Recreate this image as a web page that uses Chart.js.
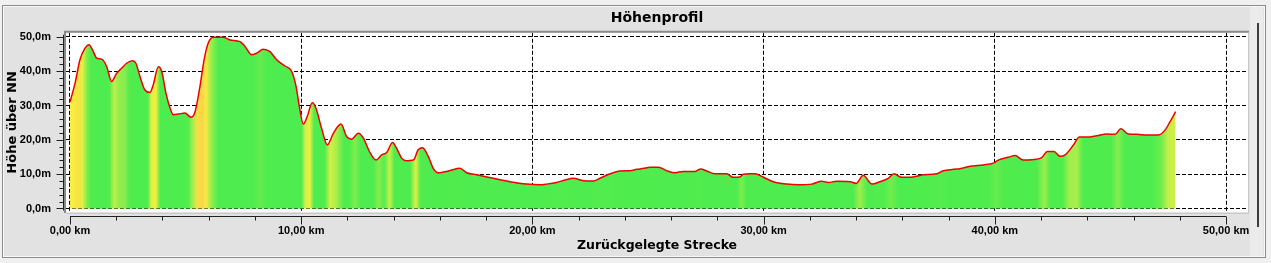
<!DOCTYPE html>
<html>
<head>
<meta charset="utf-8">
<script src="https://cdn.jsdelivr.net/npm/chart.js@4.4.1/dist/chart.umd.min.js"></script>
<style>
  html, body { margin: 0; padding: 0; background: #f0f0f0; overflow: hidden; }
  canvas { display: block; }
</style>
</head>
<body>
<canvas id="profileChart" width="1271" height="263"></canvas>
<script>
// distance along the track (km) and height above sea level (m)
const distanceKm = [
  0.00, 0.22, 0.43, 0.65, 0.82, 1.01, 1.15, 1.37, 1.59, 1.80,
  2.02, 2.24, 2.45, 2.71, 2.85, 3.03, 3.24, 3.46, 3.60, 3.82,
  3.97, 4.15, 4.33, 4.47, 4.69, 4.97, 5.23, 5.41, 5.62, 5.80,
  5.98, 6.20, 6.63, 6.92, 7.35, 7.57, 7.86, 8.07, 8.36, 8.65,
  8.94, 9.30, 9.59, 9.78, 9.92, 10.09, 10.26, 10.48, 10.64, 10.88,
  11.13, 11.39, 11.72, 11.97, 12.18, 12.47, 12.69, 12.95, 13.24, 13.48,
  13.70, 13.95, 14.13, 14.35, 14.56, 14.85, 15.06, 15.25, 15.50, 15.71,
  15.93, 16.15, 16.41, 16.87, 17.16, 17.59, 18.31, 19.03, 19.75, 20.33,
  20.62, 21.05, 21.41, 21.77, 22.20, 22.63, 22.92, 23.36, 23.79, 24.22,
  24.51, 24.80, 25.09, 25.45, 25.81, 26.17, 26.53, 27.03, 27.28, 27.54,
  27.90, 28.40, 28.69, 28.98, 29.12, 29.41, 29.63, 29.99, 30.42, 31.00,
  31.50, 32.08, 32.51, 32.80, 33.16, 33.74, 34.00, 34.31, 34.68, 35.03,
  35.39, 35.64, 35.97, 36.33, 36.91, 37.49, 37.77, 38.21, 38.49, 38.93,
  39.50, 39.94, 40.15, 40.58, 40.87, 41.23, 41.60, 42.03, 42.27, 42.56,
  42.82, 43.04, 43.40, 43.66, 43.98, 44.41, 44.84, 45.20, 45.45, 45.78,
  46.14, 46.57, 47.07, 47.37, 47.58, 47.82
];
const heightM = [
  31.0, 36.5, 43.3, 46.7, 47.7, 45.7, 43.8, 43.5, 41.3, 37.0,
  39.4, 40.9, 42.3, 43.0, 42.3, 38.4, 34.5, 33.8, 36.0, 41.3,
  39.9, 33.6, 29.2, 27.3, 27.5, 27.8, 26.6, 28.2, 35.5, 43.3,
  48.2, 49.9, 49.9, 49.1, 48.6, 47.2, 44.8, 45.2, 46.4, 45.7,
  43.3, 41.5, 39.9, 35.5, 29.7, 24.6, 26.8, 30.8, 29.2, 23.4,
  18.5, 21.9, 24.6, 20.9, 20.2, 21.9, 20.5, 16.6, 14.1, 15.6,
  16.3, 19.2, 17.5, 14.6, 13.9, 14.1, 17.1, 17.7, 15.1, 11.7,
  10.4, 10.6, 11.0, 11.7, 10.4, 9.8, 8.8, 7.8, 7.1, 6.9,
  7.1, 7.6, 8.3, 8.8, 8.1, 8.0, 8.8, 10.1, 10.9, 11.0,
  11.4, 11.7, 12.0, 12.0, 11.0, 10.4, 10.8, 10.8, 11.5, 10.9,
  10.1, 10.1, 9.1, 9.2, 10.0, 10.1, 10.1, 9.1, 7.8, 7.1,
  6.9, 7.1, 7.9, 7.6, 7.9, 7.8, 7.3, 9.7, 7.1, 7.8,
  8.8, 10.1, 9.1, 9.1, 9.8, 10.1, 11.0, 11.4, 11.6, 12.3,
  12.7, 13.2, 14.1, 14.9, 15.4, 14.1, 14.2, 14.8, 16.6, 16.6,
  15.2, 15.6, 18.5, 20.8, 20.8, 21.2, 21.7, 21.6, 23.2, 21.7,
  21.6, 21.4, 21.4, 22.9, 25.3, 28.2
];
const xTicks = [0, 10, 20, 30, 40, 50];
const yTicks = [0, 10, 20, 30, 40, 50];

// uphill slope (m per km) -> fill colour, green when flat, yellow when climbing
const slopeSteps = [
  [0, [78, 236, 78]],
  [3, [82, 236, 78]],
  [8, [160, 238, 76]],
  [14, [222, 240, 70]],
  [25, [248, 238, 64]],
  [40, [248, 214, 70]]
];
function slopeColour(s) {
  if (s <= slopeSteps[0][0]) return 'rgb(' + slopeSteps[0][1].join(',') + ')';
  for (let i = 1; i < slopeSteps.length; i++) {
    const [s1, c1] = slopeSteps[i];
    const [s0, c0] = slopeSteps[i - 1];
    if (s <= s1) {
      const t = (s - s0) / (s1 - s0);
      return 'rgb(' + c0.map((v, j) => Math.round(v + (c1[j] - v) * t)).join(',') + ')';
    }
  }
  return 'rgb(' + slopeSteps[slopeSteps.length - 1][1].join(',') + ')';
}

function fillGradient(ctx) {
  const chart = ctx.chart;
  if (!chart.chartArea) return '#4eec4e';
  const xs = chart.scales.x;
  const n = distanceKm.length;
  const x0 = xs.getPixelForValue(distanceKm[0]);
  const x1 = xs.getPixelForValue(distanceKm[n - 1]);
  const g = chart.ctx.createLinearGradient(x0, 0, x1, 0);
  for (let i = 0; i < n - 1; i++) {
    const slope = (heightM[i + 1] - heightM[i]) / (distanceKm[i + 1] - distanceKm[i]);
    const mid = (distanceKm[i] + distanceKm[i + 1]) / 2;
    const f = (xs.getPixelForValue(mid) - x0) / (x1 - x0);
    g.addColorStop(Math.min(1, Math.max(0, f)), slopeColour(Math.max(0, slope)));
  }
  return g;
}

// window frame, white plot box and the scrollbar line
const framePlugin = {
  id: 'frame',
  beforeDraw(chart) {
    const c = chart.ctx;
    const a = chart.chartArea;
    c.save();
    c.fillStyle = '#f0f0f0';
    c.fillRect(0, 0, chart.width, chart.height);
    c.fillStyle = '#e2e2e2';
    c.fillRect(2, 5, 1264, 253);
    c.strokeStyle = '#8c8c8c';
    c.lineWidth = 1;
    c.strokeRect(2.5, 5.5, 1263, 252);
    c.strokeStyle = '#f8f8f8';
    c.strokeRect(3.5, 6.5, 1261, 250);
    c.fillStyle = '#ebebeb';
    c.fillRect(1250, 7, 13, 249);
    c.fillStyle = '#ffffff';
    c.fillRect(a.left, a.top, a.right - a.left, a.bottom - a.top);
    c.restore();
  },
  afterDraw(chart) {
    const c = chart.ctx;
    const a = chart.chartArea;
    const xs = chart.scales.x;
    const ys = chart.scales.y;
    c.save();
    // plot box border
    c.strokeStyle = '#8a8a8a';
    c.lineWidth = 2;
    c.beginPath();
    c.moveTo(a.left - 1, a.bottom + 1);
    c.lineTo(a.left - 1, a.top - 1);
    c.lineTo(a.right + 1, a.top - 1);
    c.stroke();
    c.strokeStyle = '#c8c8c8';
    c.lineWidth = 1;
    c.beginPath();
    c.moveTo(a.right + 0.5, a.top);
    c.lineTo(a.right + 0.5, a.bottom + 1.5);
    c.lineTo(a.left, a.bottom + 1.5);
    c.stroke();

    // y axis with ticks every 2 m
    c.strokeStyle = '#202020';
    c.lineWidth = 1;
    const yAxisX = a.left - 2.5;
    const yTop = ys.getPixelForValue(50);
    const yBot = ys.getPixelForValue(0);
    c.beginPath();
    c.moveTo(yAxisX, yTop - 2);
    c.lineTo(yAxisX, yBot + 2);
    for (let v = 0; v <= 50; v += 2) {
      const py = Math.round(ys.getPixelForValue(v)) + 0.5;
      c.moveTo(yAxisX, py);
      c.lineTo(yAxisX - (v % 10 === 0 ? 7 : 4), py);
    }
    c.stroke();

    // x axis with ticks every 2 km
    const xAxisY = a.bottom + 4.5;
    const xL = xs.getPixelForValue(0);
    const xR = xs.getPixelForValue(50);
    c.beginPath();
    c.moveTo(xL, xAxisY);
    c.lineTo(xR, xAxisY);
    for (let v = 0; v <= 50; v += 2) {
      const px = Math.round(xs.getPixelForValue(v)) + 0.5;
      c.moveTo(px, xAxisY);
      c.lineTo(px, xAxisY + (v % 10 === 0 ? 8 : 4));
    }
    c.stroke();

    // scrollbar line
    c.fillStyle = '#3c3c3c';
    c.fillRect(1257, 23, 2, 204);
    c.restore();
  }
};

const tickFont = { family: 'Liberation Sans', size: 11, weight: 'bold' };

new Chart(document.getElementById('profileChart'), {
  type: 'line',
  data: {
    datasets: [{
      data: distanceKm.map((d, i) => ({ x: d, y: heightM[i] })),
      borderColor: '#f00000',
      borderWidth: 1.5,
      pointRadius: 0,
      cubicInterpolationMode: 'monotone',
      fill: 'origin',
      backgroundColor: fillGradient
    }]
  },
  options: {
    responsive: false,
    animation: false,
    devicePixelRatio: 1,
    layout: { padding: { top: 6, right: 23, bottom: 6, left: 0 } },
    plugins: {
      legend: { display: false },
      tooltip: { enabled: false },
      title: {
        display: true,
        text: 'Höhenprofil',
        fullSize: false,
        color: '#000',
        font: { family: 'DejaVu Sans', size: 14, weight: 'bold' },
        padding: { top: 4, bottom: 6 }
      }
    },
    scales: {
      x: {
        type: 'linear',
        min: -0.173,
        max: 50.95,
        z: 1,
        afterBuildTicks: s => { s.ticks = xTicks.map(v => ({ value: v })); },
        afterFit: s => { s.height = 45; },
        grid: { color: '#000', lineWidth: 1, drawTicks: false },
        border: { display: false, dash: [4, 2] },
        ticks: {
          autoSkip: false, maxRotation: 0, padding: 12, color: '#000', font: tickFont,
          callback: v => v.toFixed(2).replace('.', ',') + ' km'
        },
        title: {
          display: true,
          text: 'Zurückgelegte Strecke',
          color: '#000',
          font: { family: 'DejaVu Sans', size: 12.5, weight: 'bold' },
          padding: { top: 0, bottom: 4 }
        }
      },
      y: {
        min: -1.02,
        max: 51.17,
        z: 1,
        afterBuildTicks: s => { s.ticks = yTicks.map(v => ({ value: v })); },
        afterFit: s => { s.width = 66; },
        grid: { color: '#000', lineWidth: 1, drawTicks: false },
        border: { display: false, dash: [4, 2] },
        ticks: {
          padding: 15, color: '#000', font: tickFont,
          callback: v => v.toFixed(1).replace('.', ',') + 'm'
        },
        title: {
          display: true,
          text: 'Höhe über NN',
          color: '#000',
          font: { family: 'DejaVu Sans', size: 13, weight: 'bold' },
          padding: { top: 5, bottom: 0 }
        }
      }
    }
  },
  plugins: [framePlugin]
});
</script>
</body>
</html>
